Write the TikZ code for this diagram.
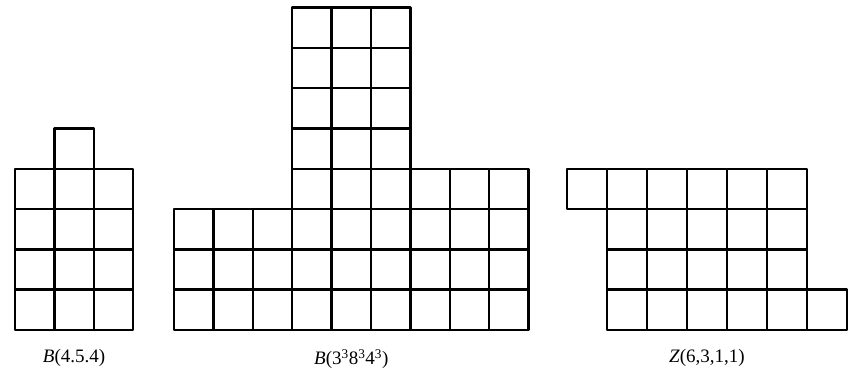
\documentclass[tikz,border=0pt]{standalone}
\usepackage{fontspec}
\setmainfont{Liberation Serif}
\usepackage{tikz}
\usetikzlibrary{positioning}
\tikzset{
  every node/.style={font=\fontsize{19}{22}\selectfont,text=black},
  cell/.style={draw=black,line width=2.5pt,line join=round},
  figlabel/.style={anchor=center,inner sep=0pt}
}

\begin{document}
\begin{tikzpicture}[x=1pt,y=1pt]
  \useasboundingbox (0,0) rectangle (856,378);

  % B(4.5.4)
  \begin{scope}[shift={(15,48)},x=39.4pt,y=40.3pt]
    \foreach \c/\h in {0/4,1/5,2/4} {
      \foreach \r in {1,...,\h} {\draw[cell] (\c,\r-1) rectangle ++(1,1);}
    }
    \coordinate (leftmid) at (1.5,0);
  \end{scope}

  % B(3^3 8^3 4^3)
  \begin{scope}[shift={(174,48)},x=39.4pt,y=40.3pt]
    \foreach \c/\h in {0/3,1/3,2/3,3/8,4/8,5/8,6/4,7/4,8/4} {
      \foreach \r in {1,...,\h} {\draw[cell] (\c,\r-1) rectangle ++(1,1);}
    }
    \coordinate (midmid) at (4.5,0);
  \end{scope}

  % Z(6,3,1,1)
  \begin{scope}[shift={(567,48)},x=40pt,y=40.3pt]
    \foreach \r/\a/\b in {3/0/5,2/1/5,1/1/5,0/1/6} {
      \foreach \c in {\a,...,\b} {\draw[cell] (\c,\r) rectangle ++(1,1);}
    }
    \coordinate (rightmid) at (3.5,0);
  \end{scope}

  \node[figlabel,below=19pt of leftmid] (capleft) {\textit{B}(4.5.4)};
  \node[figlabel,below=19pt of midmid] (capmid) {\textit{B}(3\textsuperscript{3}8\textsuperscript{3}4\textsuperscript{3})};
  \node[figlabel,below=19pt of rightmid] (capright) {\textit{Z}(6,3,1,1)};
\end{tikzpicture}
\end{document}
